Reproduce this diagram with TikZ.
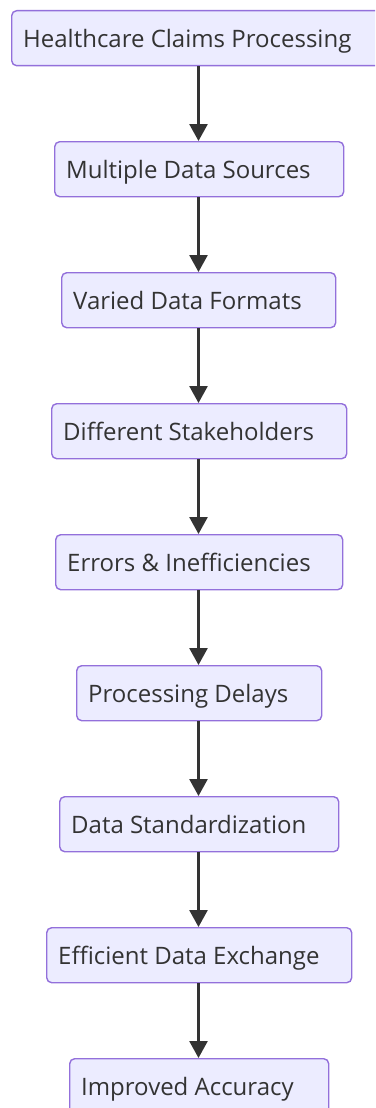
\documentclass[tikz,border=0pt]{standalone}
\usepackage{fontspec}
\setmainfont{Open Sans}
\usetikzlibrary{arrows.meta}
\definecolor{boxfill}{HTML}{ECECFF}
\definecolor{boxline}{HTML}{9370DB}
\definecolor{ink}{HTML}{333333}
\tikzset{
  box/.style={draw=boxline, fill=boxfill, line width=1.4pt, rounded corners=5pt,
    minimum height=55pt, inner sep=0pt, anchor=north west},
  lbl/.style={anchor=base west, text=ink, font=\fontsize{24}{28}\selectfont, inner sep=0pt},
  conn/.style={draw=ink, line width=2.6pt, -{Triangle[length=17pt,width=18pt]}}
}
\begin{document}
\begin{tikzpicture}[x=1pt,y=-1pt]
\useasboundingbox (0,0) rectangle (375,1108);
\clip (0,0) rectangle (375,1108);
\foreach \i/\l/\w/\t/\s in {
  1/11/375/10/Healthcare Claims Processing,
  2/54/289/141/Multiple Data Sources,
  3/61/274/272/Varied Data Formats,
  4/51/295/403/Different Stakeholders,
  5/55/287/534/Errors \& Inefficiencies,
  6/76/245/665/Processing Delays,
  7/59/279/796/Data Standardization,
  8/46/305/927/Efficient Data Exchange,
  9/69/259/1058/Improved Accuracy}{
  \node[box, minimum width=\w pt] (b\i) at (\l,\t) {};
  \node[lbl] (t\i) at ([xshift=12pt,yshift=-9pt]b\i.west) {\s};
}
\foreach \i/\j in {1/2,2/3,3/4,4/5,5/6,6/7,7/8,8/9}{
  \draw[conn] (198.5,0 |- b\i.south) -- (198.5,0 |- b\j.north);
}
\end{tikzpicture}
\end{document}
